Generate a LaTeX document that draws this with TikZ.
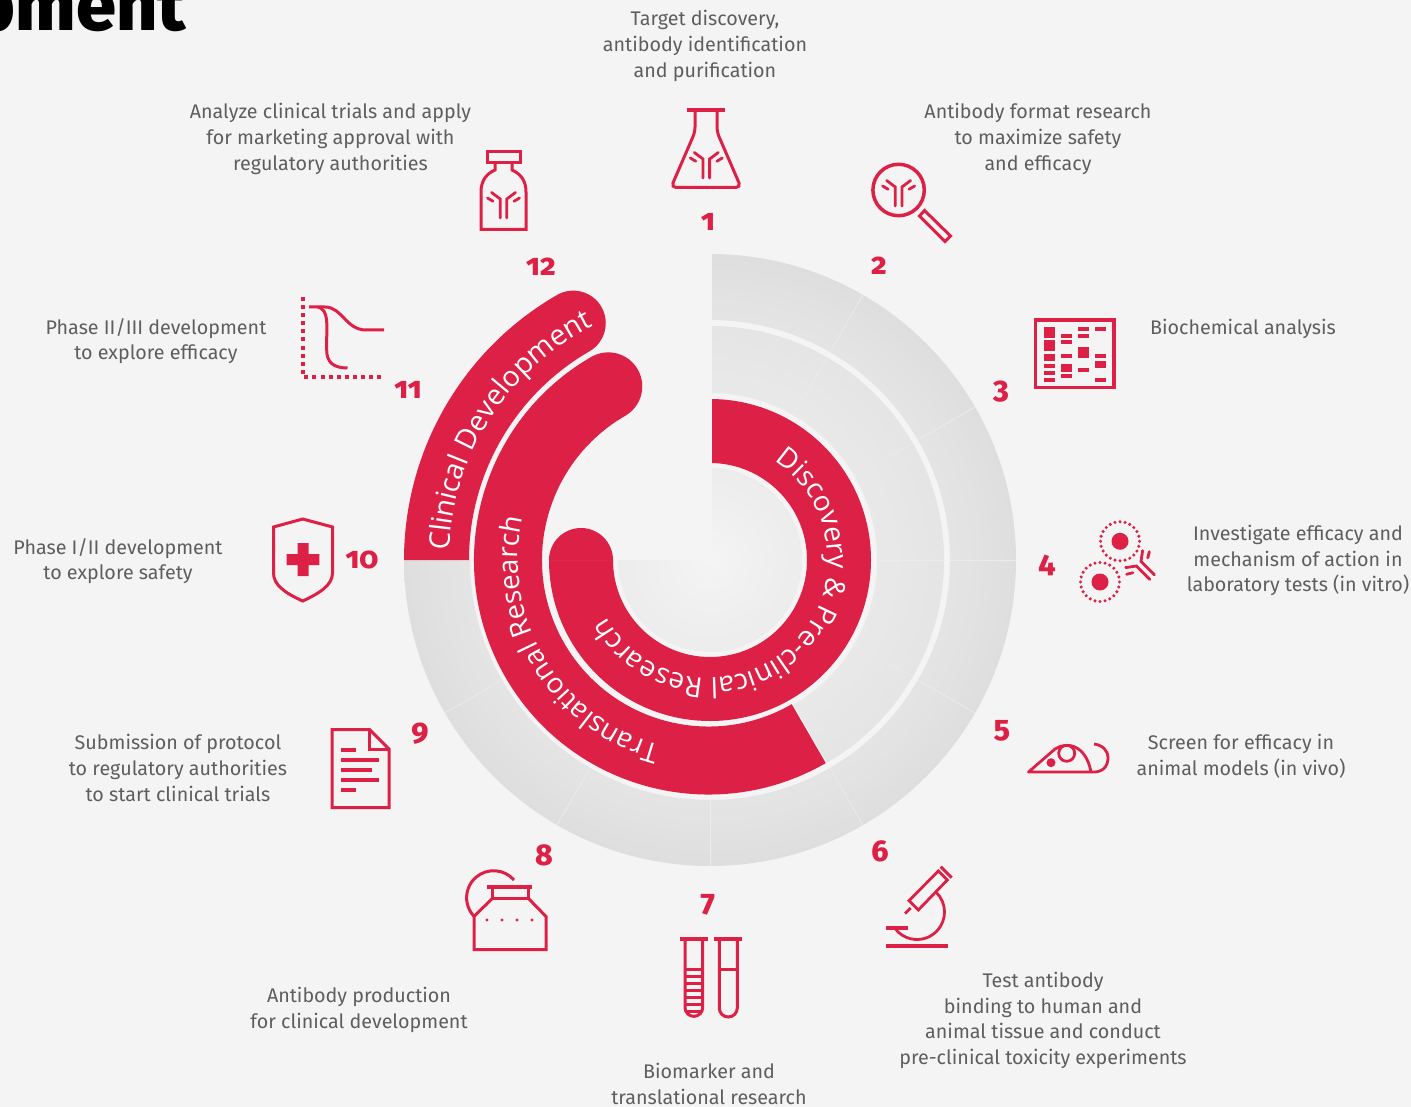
\documentclass[tikz,border=0pt]{standalone}
\usepackage{fontspec}
\usetikzlibrary{decorations.text}
\setmainfont{Fira Sans}
\newfontfamily\numf[Numbers=OldStyle]{Fira Sans ExtraBold}
\newfontfamily\headf{Fira Sans ExtraBold}
\newfontfamily\arcf{Open Sans}
\definecolor{bgc}{HTML}{F4F4F4}
\definecolor{crim}{HTML}{DD2046}
\definecolor{txt}{HTML}{5E5E5E}
\definecolor{divc}{HTML}{EBEBEB}
\pgfdeclareradialshading{ringshade}{\pgfpointorigin}{%
  color(0bp)=(bgc); color(7bp)=(bgc!97!black); color(15bp)=(bgc!95!black); color(21bp)=(bgc!93!black); color(25bp)=(bgc!91!black); color(50bp)=(bgc!91!black)}
\tikzset{
  lab/.style={text=txt,align=center,font=\fontsize{19.7}{25.7}\selectfont,inner sep=0pt},
  num/.style={text=crim,font=\numf\fontsize{30}{30}\selectfont,inner sep=0pt},
  ic/.style={draw=crim,line width=3pt,line join=miter},
  icthin/.style={draw=crim,line width=2.8pt,line cap=round},
  redfill/.style={fill=crim},
  divider/.style={draw=divc,line width=.8pt},
  seam/.style={draw=crim!97!white,line width=.4pt},
  antibody/.pic={
    \draw[icthin] (-3.3,20)--(-3.3,1)--(-12,-5.5);
    \draw[icthin] (3.3,20)--(3.3,1)--(12,-5.5);
    \draw[icthin] (-16,0)--(-10.5,3.3);
    \draw[icthin] (16,0)--(10.5,3.3);
  },
}
\newcommand{\ArcText}[5]{% size, radius, start, end, text
  \path[decorate,decoration={text along path,text={|\arcf\fontsize{#1}{#1}\selectfont\color{white}|#5}}]
    (#3:#2pt) arc[start angle=#3,end angle=#4,radius=#2pt];}
\begin{document}
\begin{tikzpicture}[x=1pt,y=-1pt]
\useasboundingbox (0,0) rectangle (1411,1107);
\fill[bgc] (0,0) rectangle (1411,1107);
\node[anchor=base east,inner sep=0pt,font=\headf\fontsize{72}{72}\selectfont] (head) at (186,31) {pment};
% rings
\begin{scope}[shift={(710,560)}]
  \begin{scope}
    \clip (90:306pt) arc[start angle=90,end angle=-180,radius=306pt]
      -- (180:240pt) arc[start angle=-180,end angle=90,radius=240pt] -- cycle
      (90:234pt) arc[start angle=90,end angle=-60,radius=234pt]
      -- (-60:167pt) arc[start angle=-60,end angle=90,radius=167pt] -- cycle
      (90:92pt) arc[start angle=90,end angle=-180,radius=92pt] -- (0,0) -- cycle;
    \shade[shading=ringshade] (0,0) circle[radius=306pt];
  \end{scope}
  \foreach \a in {60,30,0,-30}{\draw[divider] (\a:167pt)--(\a:234pt);}
  \foreach \a in {60,30,0,-30,-60,-90,-120,-150}{\draw[divider] (\a:240pt)--(\a:306pt);}
  % red bands
  \fill[redfill] (180:306pt) arc[start angle=180,end angle=120,radius=306pt]
     arc[start angle=120,end angle=-60,radius=32.5pt]
     arc[start angle=120,end angle=180,radius=241pt] -- cycle;
  \draw[seam] (120:241pt)--(120:306pt);
  \begin{scope}[shift={(-1.5,0)}]
  \fill[redfill] (-60:234.5pt) arc[start angle=-60,end angle=-240,radius=234.5pt]
     arc[start angle=120,end angle=-60,radius=34pt]
     arc[start angle=120,end angle=300,radius=166.5pt] -- cycle;
  \draw[seam] (120:166.5pt)--(120:234.5pt);
  \end{scope}
  \fill[redfill] (90:161pt) arc[start angle=90,end angle=-180,radius=161pt]
     arc[start angle=180,end angle=0,radius=32pt]
     arc[start angle=-180,end angle=90,radius=97pt] -- cycle;
  \draw[seam] (180:97pt)--(180:161pt);
\end{scope}
\fill[bgc] (690,240) rectangle (712,559.5);
% arc texts
\begin{scope}[shift={(710,560)}]
  \ArcText{28.5}{261}{178}{100}{Clinical Development}
  \ArcText{27.8}{192}{-105}{-215}{Translational Research}
  \ArcText{28}{118}{57}{-175}{Discovery {\&} Pre-clinical Research}
\end{scope}
% numbers
\node[num] (n1) at (708,222) {1};
\node[num] (n2) at (879,266) {2};
\node[num] (n3) at (1001,392) {3};
\node[num] (n4) at (1047,565) {4};
\node[num] (n5) at (1002,731) {5};
\node[num] (n6) at (880,851) {6};
\node[num] (n7) at (708,905) {7};
\node[num] (n8) at (544,855) {8};
\node[num] (n9) at (420,734) {9};
\node[num] (n10) at (362,560) {10};
\node[num] (n11) at (408,390) {11};
\node[num] (n12) at (541,267) {12};
% labels
\node[lab] (t1) at (705,46) {Target discovery,\\antibody identification\\and purification};
\node[lab] (t2) at (1038,139) {Antibody format research\\to maximize safety\\and efficacy};
\node[lab] (t3) at (1243,329) {Biochemical analysis};
\node[lab] (t4) at (1298,560.5) {Investigate efficacy and\\mechanism of action in\\laboratory tests (in vitro)};
\node[lab] (t5) at (1241,756) {Screen for efficacy in\\animal models (in vivo)};
\node[lab] (t6) at (1043,1020.5) {Test antibody\\binding to human and\\animal tissue and conduct\\pre-clinical toxicity experiments};
\node[lab] (t7) at (709,1084) {Biomarker and\\translational research};
\node[lab] (t8) at (359,1010) {Antibody production\\for clinical development};
\node[lab] (t9) at (178,768) {Submission of protocol\\to regulatory authorities\\to start clinical trials};
\node[lab] (t10) at (118,561) {Phase I/II development\\to explore safety};
\node[lab] (t11) at (156,341) {Phase II/III development\\to explore efficacy};
\node[lab] (t12) at (330.5,139) {Analyze clinical trials and apply\\for marketing approval with\\regulatory authorities};
% icon 1 flask
\draw[ic,line width=4pt] (686.5,110.5)--(724.5,110.5);
\draw[ic,rounded corners=5pt] (695,110)--(695,132)--(671,187.5)--(741,187.5)--(717,132)--(717,110);
\pic at (706.3,158) {antibody};
% icon 12 bottle
\draw[ic] (487,151.5) rectangle (520,162.5);
\draw[ic] (495,162.5)--(495,170) .. controls (486,174) and (481,181) .. (481,192) -- (481,229.5)--(526,229.5)--(526,192) .. controls (526,181) and (521,174) .. (512,170)--(512,162.5);
\pic at (503.5,198) {antibody};
% icon 2 magnifier
\draw[ic,line width=3.5pt] (898.6,190) circle[radius=25.7pt];
\draw[ic,line cap=rect] (924.5,210.5)--(919.5,216)--(945,241.5)--(950.5,236)--cycle;
\pic at (898.6,186) {antibody};
% icon 3 gel
\draw[ic,line width=3.5pt] (1035.7,319.8) rectangle (1114,387.3);
\foreach \cx/\ys in {1044/{81/114,120/153,162/183,192/204,213/225,234/246},
                     1061/{102/114,120/132,162/174,192/216,222/234},
                     1078/{81/93,102/114,141/174,204/216},
                     1095/{81/93,162/174,183/204,234/246}}{
  \foreach \ya/\yb in \ys {
    \fill[crim] (\cx,300+\ya/3) rectangle (\cx+11,300+\yb/3);
  }
}
% icon 4 cells
\foreach \ccx/\ccy in {1120/541.3,1100/582}{
  \fill[crim] (\ccx,\ccy) circle[radius=8.5pt];
  \foreach \a in {0,15,...,345}{\fill[crim] (\ccx,\ccy) ++(\a:19.5pt) circle[radius=1.7pt];}
}
\pic[rotate=45] at (1138,563) {antibody};
% icon 5 mouse
\draw[ic,line join=round,line width=2.8pt] (1093,772)--(1028.5,772)--(1055,749) .. controls (1067,741) and (1086,745) .. (1091,772) .. controls (1103,773) and (1108,766) .. (1108,758) .. controls (1108,750) and (1102,745) .. (1094,744);
\draw[ic,line width=2.8pt] (1066.7,753.3) circle[radius=8pt];
\fill[crim] (1051,762.7) circle[radius=4.5pt];
% icon 6 microscope
\draw[ic,line width=2.8pt] (938.3,871)--(947.3,880)--(918.3,910)--(909,900.7)--cycle;
\draw[ic,line width=3pt] (940.7,866.7)--(951.7,877.7);
\draw[ic,line width=2.8pt] (905,913.5)--(910.7,908);
\begin{scope}[shift={(917,912)}]
\draw[ic,line width=2.8pt] (46:27.5pt) arc[start angle=46,end angle=-141,radius=27.5pt];
\end{scope}
\draw[ic,line width=3.5pt] (886,928)--(907.7,928);
\draw[ic,line width=4pt] (886,946)--(947.7,946);
% icon 7 tubes
\draw[ic,line width=3.5pt] (680,939)--(707.7,939) (714,939)--(741.7,939);
\draw[ic] (685,939)--(685,1007.5) arc[start angle=180,end angle=360,radius=8.85pt]--(702.7,939);
\draw[ic] (719.3,939)--(719.3,1008) arc[start angle=180,end angle=360,radius=9pt]--(737.3,939);
\draw[ic] (719.3,969)--(737.3,969);
\foreach \y in {969,976,983,990,997,1004,1011}{\draw[ic,line width=3pt] (686,\y)--(701.7,\y);}
% icon 8 jar
\draw[ic] (514,880) arc[start angle=41,end angle=223,radius=27pt];
\draw[ic,line width=4pt] (486.7,887)--(532,887);
\draw[ic] (492.7,887)--(492.7,898)--(528,898)--(528,887);
\draw[ic] (492.7,898)--(474,916.5)--(474,949.5)--(546,949.5)--(546,916.5)--(528,898);
\foreach \x in {487,502,517,532}{\fill[crim] (\x,920) circle[radius=1.7pt];}
% icon 9 document
\draw[ic] (369.5,729.5)--(332,729.5)--(332,807.5)--(389,807.5)--(389,749)--cycle;
\draw[ic] (369.5,729.5)--(369.5,749)--(389,749);
\foreach \y/\xe in {750/356,760/379,770/372,780/379,790/356}{\fill[crim] (341,\y-2) rectangle (\xe,\y+2);}
% icon 10 shield
\draw[ic] (302.7,519)--(273.5,527)--(273.5,573) .. controls (273.5,585) and (285,593) .. (302.7,601) .. controls (320,593) and (332.5,585) .. (332.5,573)--(332.5,527)--cycle;
\fill[crim] (286.7,554)--(297.7,554)--(297.7,543)--(308.7,543)--(308.7,554)--(319.3,554)--(319.3,565)--(308.7,565)--(308.7,576)--(297.7,576)--(297.7,565)--(286.7,565)--cycle;
% icon 11 curves
\draw[crim,line width=4pt,dash pattern=on 4pt off 4.1pt] (303,297)--(303,376.7)--(383,376.7);
\draw[ic] (309,307) -- (325,307) .. controls (342,307) and (346,330) .. (366,330) -- (384,330);
\draw[ic] (318,307) .. controls (329,310) and (326.7,325) .. (326.7,340) -- (326.7,350) .. controls (326.7,362) and (333,368) .. (347.5,368);
\end{tikzpicture}
\end{document}
